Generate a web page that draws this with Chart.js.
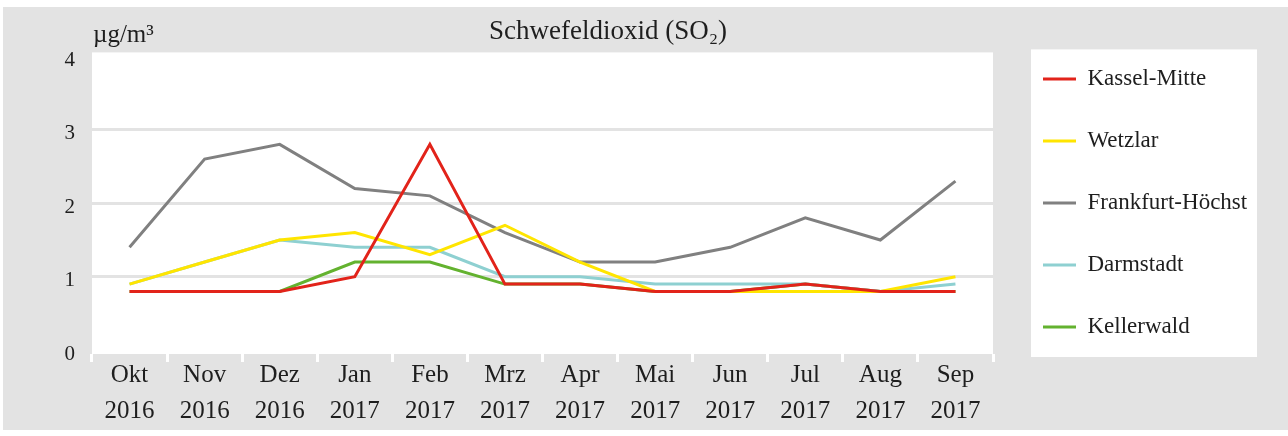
<!DOCTYPE html>
<html lang="de">
<head>
<meta charset="utf-8">
<title>Schwefeldioxid (SO2)</title>
<script src="https://cdn.jsdelivr.net/npm/chart.js@4.4.1/dist/chart.umd.min.js"></script>
<style>
  html, body { margin: 0; padding: 0; background: #fff; }
  #wrap { position: absolute; left: 3px; top: 7px; width: 1285px; height: 423px; background: #e3e3e3; }
</style>
</head>
<body>
<div id="wrap"><canvas id="chart"></canvas></div>
<script>
const months = ["Okt", "Nov", "Dez", "Jan", "Feb", "Mrz", "Apr", "Mai", "Jun", "Jul", "Aug", "Sep"];
const years = ["2016", "2016", "2016", "2017", "2017", "2017", "2017", "2017", "2017", "2017", "2017", "2017"];

const kasselMitte = [0.8, 0.8, 0.8, 1.0, 2.8, 0.9, 0.9, 0.8, 0.8, 0.9, 0.8, 0.8];
const wetzlar = [0.9, 1.2, 1.5, 1.6, 1.3, 1.7, 1.2, 0.8, 0.8, 0.8, 0.8, 1.0];
const frankfurtHoechst = [1.4, 2.6, 2.8, 2.2, 2.1, 1.6, 1.2, 1.2, 1.4, 1.8, 1.5, 2.3];
const darmstadt = [0.9, 1.2, 1.5, 1.4, 1.4, 1.0, 1.0, 0.9, 0.9, 0.9, 0.8, 0.9];
const kellerwald = [0.8, 0.8, 0.8, 1.2, 1.2, 0.9, 0.9, 0.8, 0.8, 0.9, 0.8, 0.8];

const labels = months.map((m, i) => [m, years[i]]);

Chart.defaults.font.family = "'Liberation Serif', 'DejaVu Serif', serif";
Chart.defaults.color = "#1e1e1e";

function line(label, data, color) {
  return {
    label: label,
    data: data,
    borderColor: color,
    backgroundColor: color,
    borderWidth: 3,
    pointRadius: 0,
    tension: 0,
    fill: false,
  };
}

// white plot area, white legend panel, unit label
const panels = {
  id: "panels",
  beforeDraw(chart) {
    const { ctx, chartArea, legend } = chart;
    ctx.save();
    ctx.fillStyle = "#fff";
    ctx.fillRect(chartArea.left, chartArea.top, chartArea.width, chartArea.height);
    ctx.fillRect(legend.left + 27, chartArea.top - 3, 226, chartArea.height + 6);
    ctx.restore();
  },
  afterDraw(chart) {
    const { ctx, chartArea } = chart;
    ctx.save();
    ctx.fillStyle = "#1e1e1e";
    ctx.font = "25px 'Liberation Serif', 'DejaVu Serif', serif";
    ctx.textBaseline = "alphabetic";
    ctx.fillText("µg/m³", chartArea.left + 1, chartArea.top - 10);
    ctx.restore();
  },
};

new Chart(document.getElementById("chart"), {
  type: "line",
  data: {
    labels: labels,
    datasets: [
      line("Kassel-Mitte", kasselMitte, "#e2231a"),
      line("Wetzlar", wetzlar, "#ffe500"),
      line("Frankfurt-Höchst", frankfurtHoechst, "#808080"),
      line("Darmstadt", darmstadt, "#8ed0d1"),
      line("Kellerwald", kellerwald, "#63b22f"),
    ],
  },
  options: {
    responsive: true,
    maintainAspectRatio: false,
    animation: false,
    // negative left padding moves the centred title left, y axis width makes up for it
    layout: { padding: { left: -35, right: 40, top: 0, bottom: 5 } },
    plugins: {
      title: {
        display: true,
        text: "Schwefeldioxid (SO₂)",
        font: { size: 27, weight: "normal" },
        color: "#1e1e1e",
        padding: { top: 9, bottom: 4 },
      },
      legend: {
        position: "right",
        align: "start",
        maxWidth: 244,
        // empty title only pushes the items down
        title: { display: true, text: "", padding: 0, font: { size: 18, lineHeight: 1.2 } },
        labels: {
          usePointStyle: true,
          pointStyle: "line",
          pointStyleWidth: 33,
          padding: 39,
          font: { size: 23 },
          color: "#1e1e1e",
        },
      },
      tooltip: { enabled: false },
    },
    scales: {
      x: {
        offset: true,
        border: { display: false },
        grid: { offset: true, drawOnChartArea: false, color: "#fff", lineWidth: 3, tickLength: 8 },
        ticks: { padding: -4, maxRotation: 0, autoSkip: false, font: { size: 25, lineHeight: 1.42 }, color: "#1e1e1e" },
      },
      y: {
        min: -0.05,
        max: 4.05,
        border: { display: false },
        grid: {
          color: (c) => (c.tick && c.tick.value > 0 && c.tick.value < 4 ? "#e3e3e3" : "rgba(0,0,0,0)"),
          lineWidth: 3,
          drawTicks: false,
        },
        ticks: { stepSize: 1, includeBounds: false, padding: 17, labelOffset: 4, font: { size: 21 }, color: "#1e1e1e" },
        afterFit: (s) => { s.width = 124; },
      },
      gap: {
        type: "linear",
        position: "right",
        display: true,
        grid: { display: false },
        border: { display: false },
        ticks: { display: false },
        afterFit: (s) => { s.width = 11; },
      },
    },
  },
  plugins: [panels],
});
</script>
</body>
</html>
